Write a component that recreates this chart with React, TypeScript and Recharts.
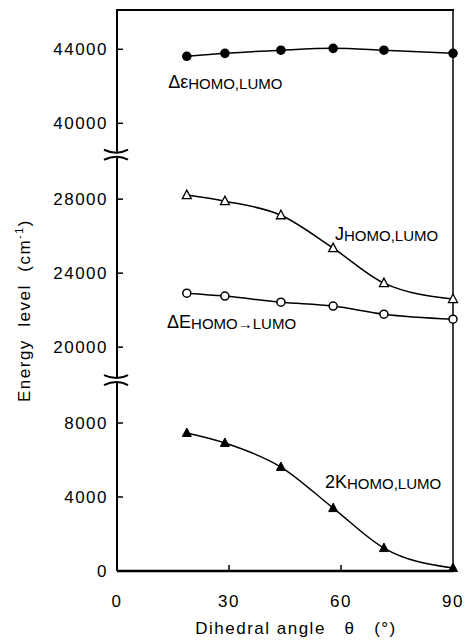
import React from 'react';
import { LineChart, Line, XAxis, YAxis, ReferenceDot } from 'recharts';

// dihedral angle (deg) of the computed conformations
const angles = [18.7, 28.9, 43.9, 57.9, 71.5, 90];
// energies in cm-1
const gapHomoLumo = [43620, 43780, 43950, 44050, 43950, 43780];
const jHomoLumo = [28220, 27890, 27130, 25350, 23460, 22600];
const deltaEHomoLumo = [22920, 22760, 22430, 22220, 21780, 21510];
const twoKHomoLumo = [7460, 6920, 5620, 3400, 1240, 160];

const xTicks = [0, 30, 60, 90];
const yTicks = [0, 4000, 8000, 20000, 24000, 28000, 40000, 44000];

// the y axis is broken twice, every piece keeps the same scale
const BREAK_LOW = 10320;
const BREAK_HIGH = 22500;
const SHIFT_MID = 7900;
const SHIFT_TOP = 15800;
const Y_MAX = 30324;

const toAxis = (v: number) => (v > 35000 ? v - SHIFT_TOP : v > 15000 ? v - SHIFT_MID : v);
const fromAxis = (d: number) => (d > BREAK_HIGH ? d + SHIFT_TOP : d > BREAK_LOW ? d + SHIFT_MID : d);

const data = angles.map((angle, i) => ({
  angle,
  gap: toAxis(gapHomoLumo[i]),
  j: toAxis(jHomoLumo[i]),
  dE: toAxis(deltaEHomoLumo[i]),
  k2: toAxis(twoKHomoLumo[i]),
}));

const FONT = '"Liberation Sans", Arial, Helvetica, sans-serif';
const TICK_LEN = 6;
const X_MARGIN = 24;
const Y_MARGIN = 9;
const PLOT_LEFT = 117;
const PLOT_TOP = 10;
const PLOT_W = 336;

const marker = (kind: string) => (props: any) => {
  const { cx, cy, index } = props;
  if (cx == null || cy == null) return <g key={index} />;
  if (kind === 'filledCircle') return <circle key={index} cx={cx} cy={cy} r={4.8} fill="#000" />;
  if (kind === 'openCircle')
    return <circle key={index} cx={cx} cy={cy} r={4} fill="#fff" stroke="#000" strokeWidth={1.5} />;
  const pts = `${cx},${cy - 5} ${cx - 4.5},${cy + 3.5} ${cx + 4.5},${cy + 3.5}`;
  if (kind === 'openTriangle')
    return <polygon key={index} points={pts} fill="#fff" stroke="#000" strokeWidth={1.3} />;
  return <polygon key={index} points={pts} fill="#000" stroke="#000" strokeWidth={1} />;
};

// inward tick mark plus label
const XTick = ({ x, y, payload }: any) => (
  <g>
    <line x1={x} x2={x} y1={y - X_MARGIN} y2={y - X_MARGIN - TICK_LEN} stroke="#000" strokeWidth={1.5} />
    <text x={x} y={y} dy="0.71em" textAnchor="middle" fontFamily={FONT} fontSize={17} fill="#000">
      {payload.value}
    </text>
  </g>
);

const YTick = ({ x, y, payload }: any) => (
  <g>
    <line x1={x + Y_MARGIN} x2={x + Y_MARGIN + TICK_LEN} y1={y} y2={y} stroke="#000" strokeWidth={1.5} />
    <text x={x} y={y} dy="0.355em" textAnchor="end" fontFamily={FONT} fontSize={17} fill="#000">
      {Math.round(fromAxis(payload.value))}
    </text>
  </g>
);

const SeriesLabel = ({ cx, cy, main, sub }: any) => (
  <text x={cx} y={cy} fontFamily={FONT} fontSize={18} fill="#000" letterSpacing={0}>
    {main}
    <tspan fontSize={15} dy={1}>
      {sub}
    </tspan>
  </text>
);

const BreakMark = ({ cx, cy }: any) => (
  <g>
    <rect x={cx - 3} y={cy - 3} width={6} height={6} fill="#fff" />
    <path d={`M${cx - 13},${cy - 5} Q${cx},${cy + 1} ${cx + 11},${cy - 5}`} fill="none" stroke="#000" strokeWidth={2} />
    <path d={`M${cx - 13},${cy + 5} Q${cx},${cy - 1} ${cx + 11},${cy + 5}`} fill="none" stroke="#000" strokeWidth={2} />
  </g>
);

const YTitle = ({ viewBox }: any) => {
  const x = viewBox.x + 30;
  const y = viewBox.y + viewBox.height / 2 + 20;
  return (
    <text x={x} y={y} transform={`rotate(-90 ${x} ${y})`} textAnchor="middle" fontFamily={FONT} fontSize={17} fill="#000">
      Energy{'\u00a0'} level{'\u00a0'} (cm<tspan fontSize={11} dy={-7}>-1</tspan>
      <tspan dy={7}>)</tspan>
    </text>
  );
};

const XTitle = ({ viewBox }: any) => (
  <text x={viewBox.x + viewBox.width / 2 + 11} y={viewBox.y + 63} textAnchor="middle" fontFamily={FONT} fontSize={17} fill="#000">
    {'Dihedral angle\u00a0\u00a0 θ\u00a0\u00a0 (°)'}
  </text>
);

export default function App() {
  return (
    <div style={{ position: 'absolute', left: 0, top: 0, width: 466, height: 641, fontFamily: FONT, letterSpacing: 1.5 }}>
      <LineChart width={466} height={641} data={data} margin={{ top: PLOT_TOP, right: 0, bottom: 0, left: 0 }}>
        <XAxis
          dataKey="angle"
          type="number"
          domain={[0, 90]}
          ticks={xTicks}
          interval={0}
          height={70}
          tick={<XTick />}
          tickSize={0}
          tickMargin={X_MARGIN}
          tickLine={false}
          axisLine={{ stroke: '#000', strokeWidth: 2.5 }}
          label={<XTitle />}
        />
        <YAxis
          type="number"
          domain={[0, Y_MAX]}
          ticks={yTicks.map(toAxis)}
          interval={0}
          width={PLOT_LEFT}
          tick={<YTick />}
          tickSize={0}
          tickMargin={Y_MARGIN}
          tickLine={false}
          axisLine={{ stroke: '#000', strokeWidth: 2 }}
          label={<YTitle />}
        />
        <YAxis
          yAxisId="right"
          orientation="right"
          domain={[0, 1]}
          width={13}
          tick={false}
          tickLine={false}
          axisLine={{ stroke: '#000', strokeWidth: 1.5 }}
        />
        <Line dataKey="gap" type="monotone" stroke="#000" strokeWidth={1.5} dot={marker('filledCircle')} isAnimationActive={false} />
        <Line dataKey="j" type="monotone" stroke="#000" strokeWidth={1.5} dot={marker('openTriangle')} isAnimationActive={false} />
        <Line dataKey="dE" type="monotone" stroke="#000" strokeWidth={1.5} dot={marker('openCircle')} isAnimationActive={false} />
        <Line dataKey="k2" type="monotone" stroke="#000" strokeWidth={1.5} dot={marker('filledTriangle')} isAnimationActive={false} />
        <ReferenceDot x={13.7} y={toAxis(41900)} r={0} shape={(p: any) => <SeriesLabel {...p} main="Δε" sub="HOMO,LUMO" />} />
        <ReferenceDot x={58.4} y={toAxis(25800)} r={0} shape={(p: any) => <SeriesLabel {...p} main="J" sub="HOMO,LUMO" />} />
        <ReferenceDot x={13.4} y={toAxis(21040)} r={0} shape={(p: any) => <SeriesLabel {...p} main="ΔE" sub="HOMO→LUMO" />} />
        <ReferenceDot x={55.7} y={toAxis(4490)} r={0} shape={(p: any) => <SeriesLabel {...p} main="2K" sub="HOMO,LUMO" />} />
        <ReferenceDot x={0} y={BREAK_LOW} r={0} shape={(p: any) => <BreakMark {...p} />} />
        <ReferenceDot x={0} y={BREAK_HIGH} r={0} shape={(p: any) => <BreakMark {...p} />} />
      </LineChart>
      {/* top edge of the frame */}
      <div
        style={{
          position: 'absolute',
          left: PLOT_LEFT - 1,
          top: PLOT_TOP - 1,
          width: PLOT_W + 2,
          height: 0,
          borderTop: '2px solid #000',
          pointerEvents: 'none',
        }}
      />
    </div>
  );
}
